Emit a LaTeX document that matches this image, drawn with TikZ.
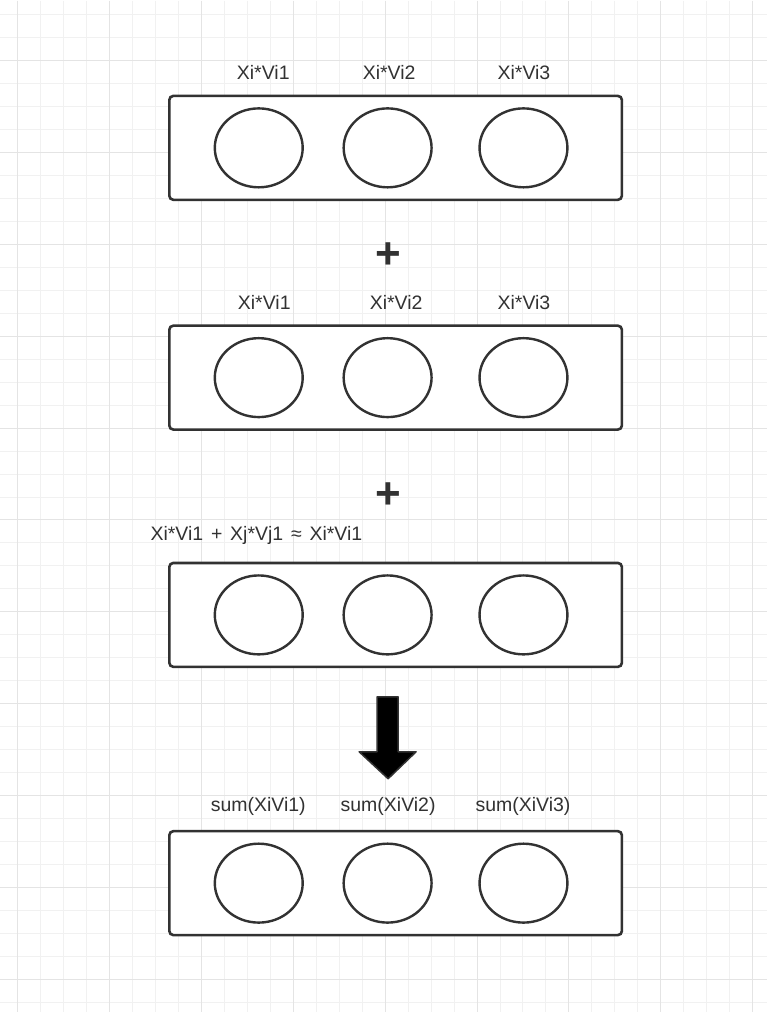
\documentclass[tikz,border=0pt]{standalone}
\usepackage{fontspec}
\setmainfont{Liberation Sans}
\usetikzlibrary{shapes.geometric, positioning}
\definecolor{GridMinor}{RGB}{241,241,241}
\definecolor{GridMajor}{RGB}{228,228,228}
\definecolor{InkGray}{RGB}{50,50,50}

\tikzset{
  rowbox/.style={draw=InkGray, line width=2.6pt, rounded corners=4pt, fill=white,
                 minimum width=453pt, minimum height=104pt},
  cell/.style={ellipse, draw=InkGray, line width=2.4pt, inner sep=0pt,
               minimum width=88pt, minimum height=79pt},
  tag/.style={font=\fontsize{19.5}{22}\selectfont, text=InkGray, inner sep=0pt},
  plus/.style={font=\fontsize{44}{44}\selectfont\bfseries, text=InkGray, inner sep=0pt}
}

\begin{document}
\begin{tikzpicture}[x=1pt, y=-1pt]
  % background grid
  \fill[white] (0,0) rectangle (767,1012);
  \foreach \k in {0,...,32} {
    \draw[GridMinor, line width=1pt] ({17+23*\k},0) -- ({17+23*\k},1012);
  }
  \foreach \k in {0,...,43} {
    \draw[GridMinor, line width=1pt] (0,{14+23*\k}) -- (767,{14+23*\k});
  }
  \foreach \k in {0,...,8} {
    \draw[GridMajor, line width=1pt] ({17+92*\k},0) -- ({17+92*\k},1012);
  }
  \foreach \k in {0,...,10} {
    \draw[GridMajor, line width=1pt] (0,{60+92*\k}) -- (767,{60+92*\k});
  }
  \useasboundingbox (0,0) rectangle (767,1012);

  % rows of cells
  \foreach \r/\y in {a/147.5, b/377.5, c/615, d/883.5} {
    \node[rowbox] (box\r) at (395.5,\y) {};
    \node[cell] (\r1) at (258.5,\y) {};
    \node[cell] (\r2) at (387.5,\y) {};
    \node[cell] (\r3) at (523.5,\y) {};
  }

  % labels
  \node[tag] (la1) at (263,72) {Xi*Vi1};
  \node[tag] (la2) at (389,72) {Xi*Vi2};
  \node[tag] (la3) at (524,72) {Xi*Vi3};
  \node[tag] (lb1) at (264,302) {Xi*Vi1};
  \node[tag] (lb2) at (396,302) {Xi*Vi2};
  \node[tag] (lb3) at (524,302) {Xi*Vi3};
  \node[tag, anchor=west] (lc) at (150,535) {Xi*Vi1\hspace{0.4em}+\hspace{0.4em}Xj*Vj1\hspace{0.4em}≈\hspace{0.4em}Xi*Vi1};
  \node[tag] (ld1) at (258,807) {sum(XiVi1)};
  \node[tag] (ld2) at (388,807) {sum(XiVi2)};
  \node[tag] (ld3) at (523,807) {sum(XiVi3)};

  \node[plus] (plusab) at (388,255) {+};
  \node[plus] (plusbc) at (388,496) {+};

  % down arrow
  \filldraw[fill=black, draw=InkGray, line width=1.5pt, line join=round]
    (377,697) -- (398,697) -- (398,752) -- (416,752) -- (388,779)
    -- (359,752) -- (377,752) -- cycle;
\end{tikzpicture}
\end{document}
